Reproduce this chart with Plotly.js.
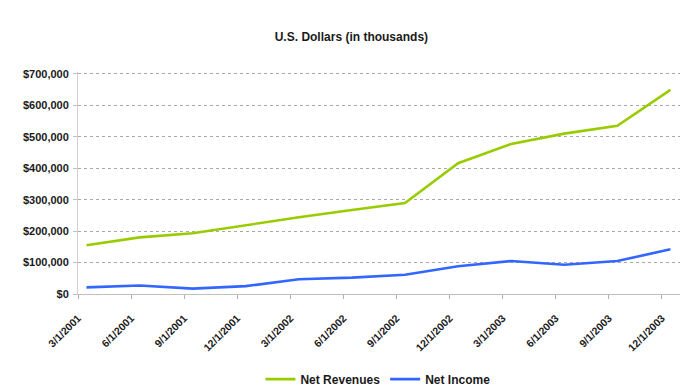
<!DOCTYPE html>
<html>
<head>
<meta charset="utf-8">
<script src="https://cdn.plot.ly/plotly-3.0.1.min.js"></script>
<style>html,body{margin:0;padding:0;background:#fff;}#chart{width:681px;height:390px;}</style>
</head>
<body>
<div id="chart"></div>
<script>
const dates = ["3/1/2001","6/1/2001","9/1/2001","12/1/2001","3/1/2002","6/1/2002","9/1/2002","12/1/2002","3/1/2003","6/1/2003","9/1/2003","12/1/2003"];
const netRevenues = [155000, 180000, 193000, 219000, 244000, 267000, 289000, 416000, 477000, 510000, 535000, 649000];
const netIncome = [21000, 27000, 17000, 25000, 47000, 52000, 61000, 88000, 105000, 93000, 105000, 142000];

const idx = dates.map((d, i) => i);
const tickShift = -0.16;

const traces = [
  {x: idx, y: netRevenues, name: "<b>Net Revenues</b>", type: "scatter", mode: "lines",
   line: {color: "#99CC00", width: 2.6}},
  {x: idx, y: netIncome, name: "<b>Net Income</b>", type: "scatter", mode: "lines",
   line: {color: "#3366FF", width: 2.6}}
];

const layout = {
  width: 681, height: 390,
  margin: {l: 78, r: 1, t: 72, b: 96},
  paper_bgcolor: "#fff", plot_bgcolor: "#fff",
  font: {family: "Liberation Sans, Arial, sans-serif", size: 11, color: "#1a1a1a"},
  title: {text: "<b>U.S. Dollars (in thousands)</b>", x: 0.516, xref: "container", xanchor: "center",
          y: 0.905, yref: "container", yanchor: "middle",
          font: {size: 12, color: "#1a1a1a", family: "Liberation Sans, Arial, sans-serif"}},
  showlegend: true,
  legend: {orientation: "h", x: 0.555, xref: "container", xanchor: "center",
           y: 0.028, yref: "container", yanchor: "middle",
           font: {size: 12, color: "#1a1a1a"}, bgcolor: "rgba(0,0,0,0)"},
  xaxis: {type: "linear", range: [-0.16, 11.18], automargin: false,
          tickmode: "array", tickvals: idx.map(i => i + tickShift), ticktext: dates.map(d => "<b>" + d + "</b>"),
          tickangle: -45, ticks: "outside", ticklen: 4, tickcolor: "#b0b0b0", tickwidth: 1,
          ticklabelstandoff: 9,
          showline: true, linecolor: "#c0c0c0", linewidth: 1,
          showgrid: false, zeroline: false, fixedrange: true,
          tickfont: {size: 10.5, color: "#1a1a1a"}},
  yaxis: {range: [0, 706000], tickmode: "linear", dtick: 100000, tickformat: "$,.0f", automargin: false,
          showgrid: true, gridcolor: "#a8a8a8", griddash: "dot", gridwidth: 1,
          showline: true, linecolor: "#d0d0d0", linewidth: 1,
          zeroline: false, ticks: "outside", ticklen: 4, tickcolor: "#c0c0c0", tickwidth: 1,
          ticklabelstandoff: 2,
          tickfont: {size: 11, color: "#1a1a1a", weight: "bold"}, fixedrange: true}
};

Plotly.newPlot("chart", traces, layout, {displayModeBar: false, staticPlot: true});
</script>
</body>
</html>
